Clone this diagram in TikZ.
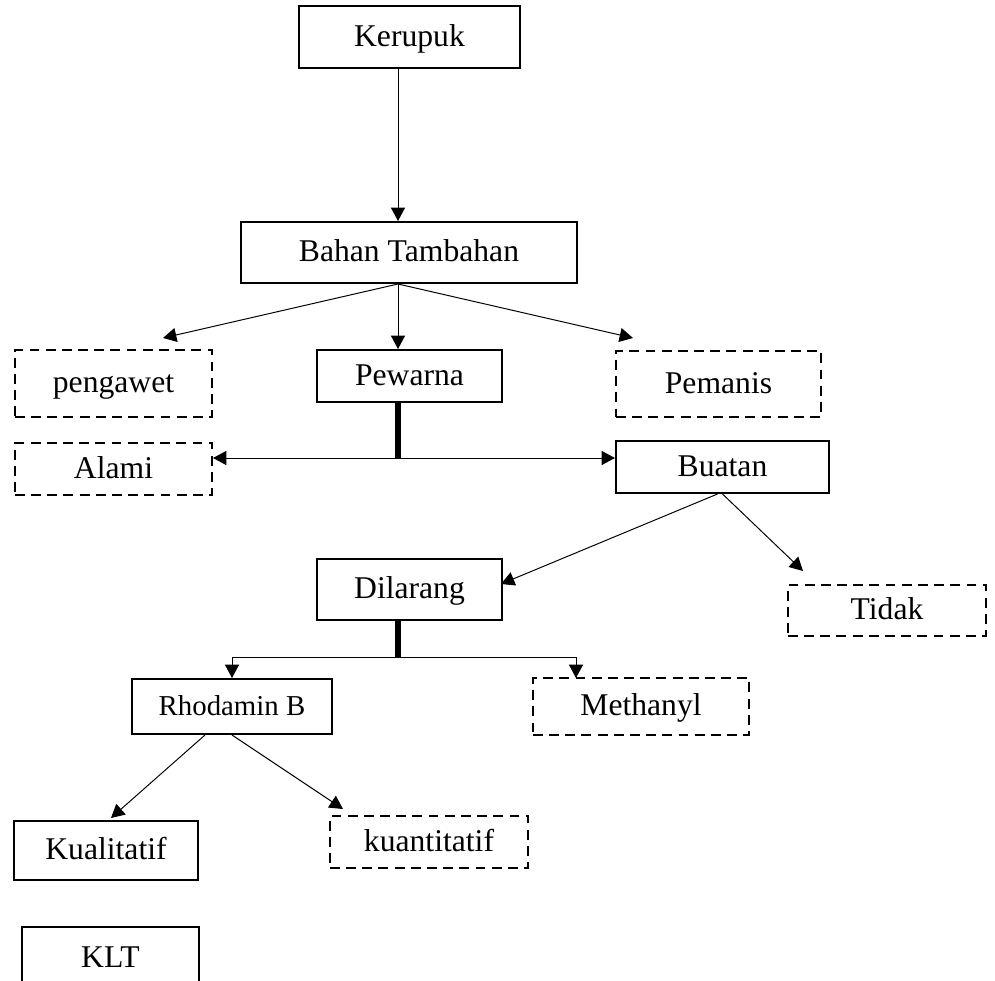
\documentclass[tikz,border=0pt]{standalone}
\usepackage{fontspec}
\setmainfont{Liberation Serif}
\usetikzlibrary{arrows.meta}

\begin{document}
\begin{tikzpicture}[x=0.025cm,y=-0.025cm,font=\fontsize{22.5}{27}\selectfont,
  box/.style={draw,line width=1.4pt,inner sep=0pt,text height=16pt,text depth=3pt},
  dbox/.style={box,dash pattern=on 7pt off 4.5pt},
  arr/.style={-{Triangle[length=9.5pt,width=10pt]},line width=0.7pt},
  bar/.style={line width=3.6pt}]
\useasboundingbox (0,0) rectangle (995,981);
\node[box,minimum width=5.525cm,minimum height=1.55cm] (kerupuk) at (409.5,37) {Kerupuk};
\node[box,minimum width=8.4cm,minimum height=1.525cm] (bahan) at (409,252.5) {Bahan Tambahan};
\node[dbox,minimum width=4.925cm,minimum height=1.675cm] (pengawet) at (113.5,383.5) {pengawet};
\node[box,minimum width=4.625cm,minimum height=1.3cm] (pewarna) at (409.5,376) {Pewarna};
\node[dbox,minimum width=5.125cm,minimum height=1.65cm] (pemanis) at (718.5,384) {Pemanis};
\node[dbox,minimum width=4.925cm,minimum height=1.3cm] (alami) at (113.5,469) {Alami};
\node[box,minimum width=5.325cm,minimum height=1.3cm] (buatan) at (722.5,467) {Buatan};
\node[box,minimum width=4.625cm,minimum height=1.525cm] (dilarang) at (409.5,589.5) {Dilarang};
\node[dbox,minimum width=4.95cm,minimum height=1.275cm] (tidak) at (887,610.5) {Tidak};
\node[box,minimum width=5cm,minimum height=1.375cm,font=\fontsize{20.5}{24}\selectfont] (rhodamin) at (232,706.5) {Rhodamin B};
\node[dbox,minimum width=5.4cm,minimum height=1.425cm] (methanyl) at (641,706.5) {Methanyl};
\node[box,minimum width=4.6cm,minimum height=1.475cm] (kualitatif) at (106,850.5) {Kualitatif};
\node[dbox,minimum width=4.95cm,minimum height=1.3cm] (kuantitatif) at (429,842) {kuantitatif};
\node[box,minimum width=4.425cm,minimum height=1.55cm] (klt) at (110.5,958) {KLT};

\coordinate (spine) at (398,0);
\coordinate (pgTip) at (163,338);
\coordinate (pmTip) at (633,338);
\coordinate (split1) at (398,458);
\coordinate (dlTip) at (501,584);
\coordinate (tdTip) at (803,571);
\coordinate (split2) at (398,657);
\coordinate (mtTip) at (576,678);
\coordinate (kaTip) at (111,818);
\coordinate (knTip) at (343,809);

\draw[arr] (kerupuk.south -| spine) -- (bahan.north -| spine);
\draw[arr] (bahan.south -| spine) -- (pgTip);
\draw[arr] (bahan.south -| spine) -- (pewarna.north -| spine);
\draw[arr] (bahan.south -| spine) -- (pmTip);
\draw[bar] (pewarna.south -| spine) -- (split1);
\draw[arr] (split1) -- (split1 -| alami.east);
\draw[arr] (split1) -- (split1 -| buatan.west);
\draw[arr] ([xshift=-0.125cm]buatan.south) -- (dlTip);
\draw[arr] (buatan.south) -- (tdTip);
\draw[bar] (dilarang.south -| spine) -- (split2);
\draw[arr] (split2) -| (rhodamin.north);
\draw[arr] (split2) -| (mtTip);
\draw[arr] ([xshift=-0.675cm]rhodamin.south) -- (kaTip);
\draw[arr] (rhodamin.south) -- (knTip);
\end{tikzpicture}
\end{document}
